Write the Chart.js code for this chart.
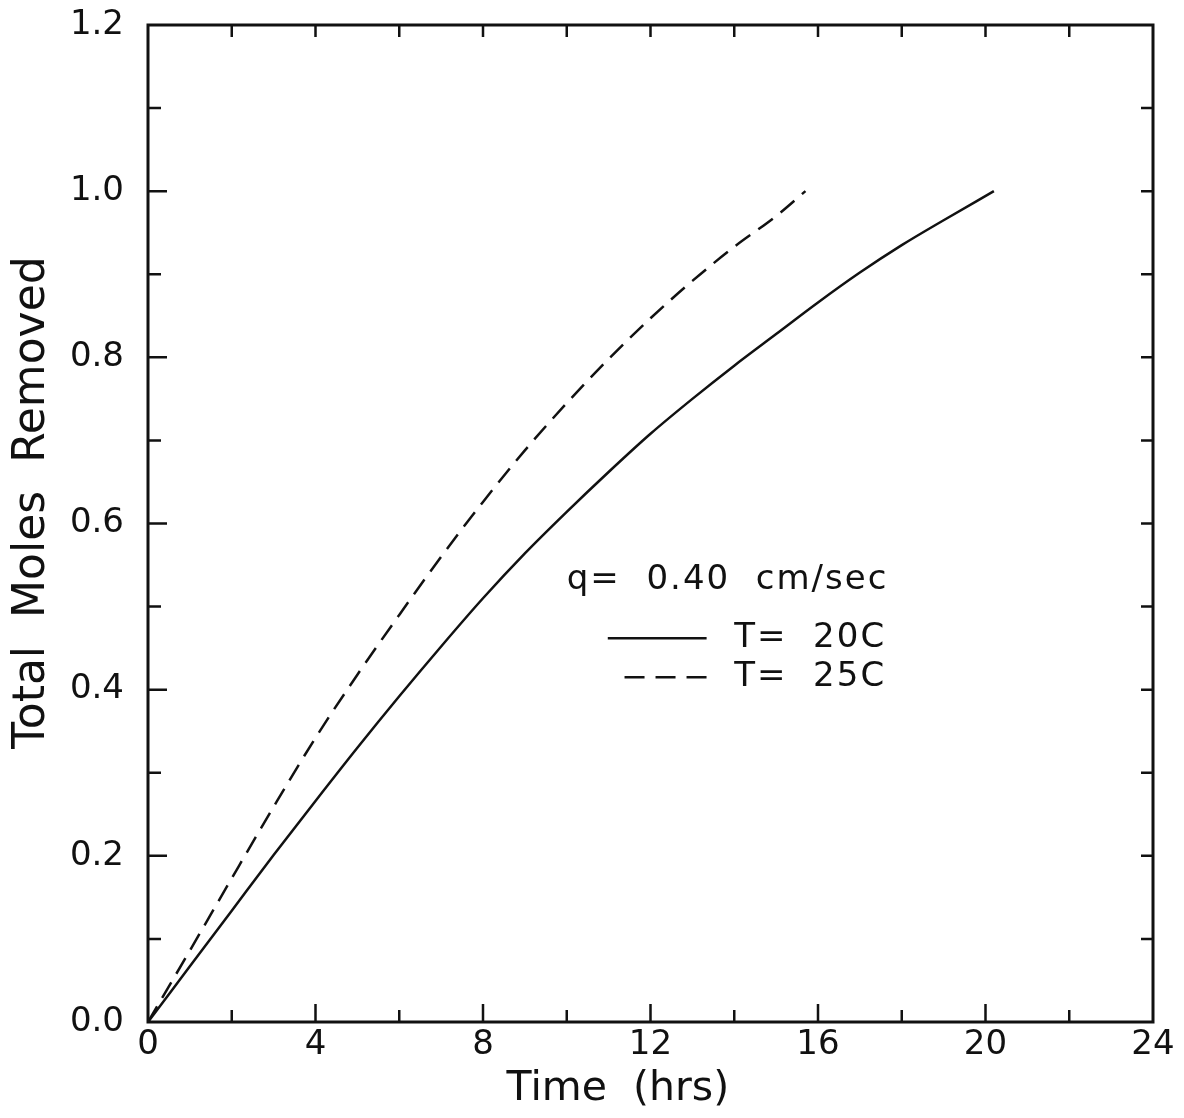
<!DOCTYPE html>
<html>
<head>
<meta charset="utf-8">
<script src="https://cdn.jsdelivr.net/npm/chart.js@4.4.1/dist/chart.umd.min.js"></script>
<style>
  html, body { margin: 0; padding: 0; background: #fff; }
  canvas { display: block; }
</style>
</head>
<body>
<canvas id="chart" width="1184" height="1118"></canvas>
<script>
// T = 20C (solid)
const time20 = [0, 1, 2, 3, 4, 5, 6, 7, 8, 9, 10, 11, 12, 13, 14, 15, 16, 17, 18, 19, 20.2];
const moles20 = [0, 0.067, 0.134, 0.201, 0.266, 0.330, 0.392, 0.452, 0.510, 0.564, 0.614, 0.662, 0.708, 0.750, 0.790, 0.828, 0.866, 0.902, 0.935, 0.965, 1.0];

// T = 25C (dashed)
const time25 = [0, 1, 2, 3, 4, 5, 6, 7, 8, 9, 10, 11, 12, 13, 14, 15, 15.7];
const moles25 = [0, 0.086, 0.173, 0.259, 0.342, 0.418, 0.490, 0.560, 0.626, 0.688, 0.745, 0.798, 0.847, 0.892, 0.933, 0.970, 1.0];

const xTicks = [0, 4, 8, 12, 16, 20, 24];
const yTicks = ['0.0', '0.2', '0.4', '0.6', '0.8', '1.0', '1.2'];
const seriesLabels = ['T=  20C', 'T=  25C'];
const caption = 'q=  0.40  cm/sec';

const FONT = "'DejaVu Sans', 'Liberation Sans', sans-serif";
const INK = '#111';

function toPoints(xs, ys) {
    return xs.map((x, i) => ({ x, y: ys[i] }));
}

// frame, inward tick marks and the small key inside the plot
const framePlugin = {
    id: 'frame',
    afterDatasetsDraw(chart) {
        const { ctx, chartArea: a, scales: { x, y } } = chart;
        ctx.save();
        ctx.strokeStyle = INK;
        ctx.lineWidth = 3;
        ctx.strokeRect(a.left, a.top, a.right - a.left, a.bottom - a.top);

        ctx.lineWidth = 2.5;
        ctx.beginPath();
        for (let t = 2; t < 24; t += 2) {
            const px = x.getPixelForValue(t);
            const len = xTicks.includes(t) ? 18 : 12;
            ctx.moveTo(px, a.bottom); ctx.lineTo(px, a.bottom - len);
            ctx.moveTo(px, a.top); ctx.lineTo(px, a.top + 12);
        }
        for (let i = 1; i < 12; i++) {
            const py = y.getPixelForValue(i / 10);
            const len = i % 2 === 0 ? 19 : 13;
            ctx.moveTo(a.left, py); ctx.lineTo(a.left + len, py);
            ctx.moveTo(a.right, py); ctx.lineTo(a.right - 12, py);
        }
        ctx.stroke();

        // key
        ctx.fillStyle = INK;
        ctx.font = '34px ' + FONT;
        ctx.letterSpacing = '2px';
        ctx.textAlign = 'left';
        ctx.textBaseline = 'middle';
        ctx.fillText(caption, x.getPixelForValue(10.0), y.getPixelForValue(0.532));

        const rows = [
            { y: 0.462, from: 10.98, dash: [] },
            { y: 0.415, from: 11.38, dash: [20, 11] },
        ];
        rows.forEach((r, i) => {
            const py = y.getPixelForValue(r.y);
            ctx.setLineDash(r.dash);
            ctx.lineWidth = 2.5;
            ctx.beginPath();
            ctx.moveTo(x.getPixelForValue(r.from), py);
            ctx.lineTo(x.getPixelForValue(13.34), py);
            ctx.stroke();
            ctx.fillText(seriesLabels[i], x.getPixelForValue(14.0), py);
        });
        ctx.restore();
    }
};

new Chart(document.getElementById('chart'), {
    type: 'scatter',
    data: {
        datasets: [
            {
                label: seriesLabels[0],
                data: toPoints(time20, moles20),
                showLine: true,
                borderColor: INK,
                borderWidth: 2.5,
                pointRadius: 0,
                cubicInterpolationMode: 'monotone',
            },
            {
                label: seriesLabels[1],
                data: toPoints(time25, moles25),
                showLine: true,
                borderColor: INK,
                borderWidth: 2.5,
                borderDash: [18, 10],
                pointRadius: 0,
                cubicInterpolationMode: 'monotone',
            },
        ]
    },
    options: {
        responsive: false,
        animation: false,
        layout: { padding: { top: 25, right: 31, left: 0, bottom: 0 } },
        plugins: { legend: { display: false }, tooltip: { enabled: false } },
        scales: {
            x: {
                type: 'linear',
                min: xTicks[0],
                max: xTicks[xTicks.length - 1],
                grid: { display: false, drawTicks: false },
                border: { display: false },
                ticks: {
                    stepSize: 4,
                    padding: 3,
                    color: INK,
                    font: { family: FONT, size: 34 },
                    maxRotation: 0,
                },
                title: {
                    display: true,
                    text: 'Time  (hrs)     ',
                    color: INK,
                    font: { family: FONT, size: 41 },
                    padding: { top: 0, bottom: 4 },
                },
                afterFit(s) {
                    s.height = 96;
                    s.paddingLeft = 0;
                    s.paddingRight = 0;
                },
            },
            y: {
                min: 0,
                max: 1.2,
                grid: { display: false, drawTicks: false },
                border: { display: false },
                ticks: {
                    stepSize: 0.2,
                    padding: 24,
                    color: INK,
                    font: { family: FONT, size: 34 },
                    callback: (v, i) => yTicks[i],
                },
                title: {
                    display: true,
                    text: '   Total  Moles  Removed',
                    color: INK,
                    font: { family: FONT, size: 44 },
                    padding: { top: 6, bottom: 0 },
                },
                afterFit(s) {
                    s.width = 148;
                    s.paddingTop = 0;
                    s.paddingBottom = 0;
                },
            }
        }
    },
    plugins: [framePlugin]
});
</script>
</body>
</html>
